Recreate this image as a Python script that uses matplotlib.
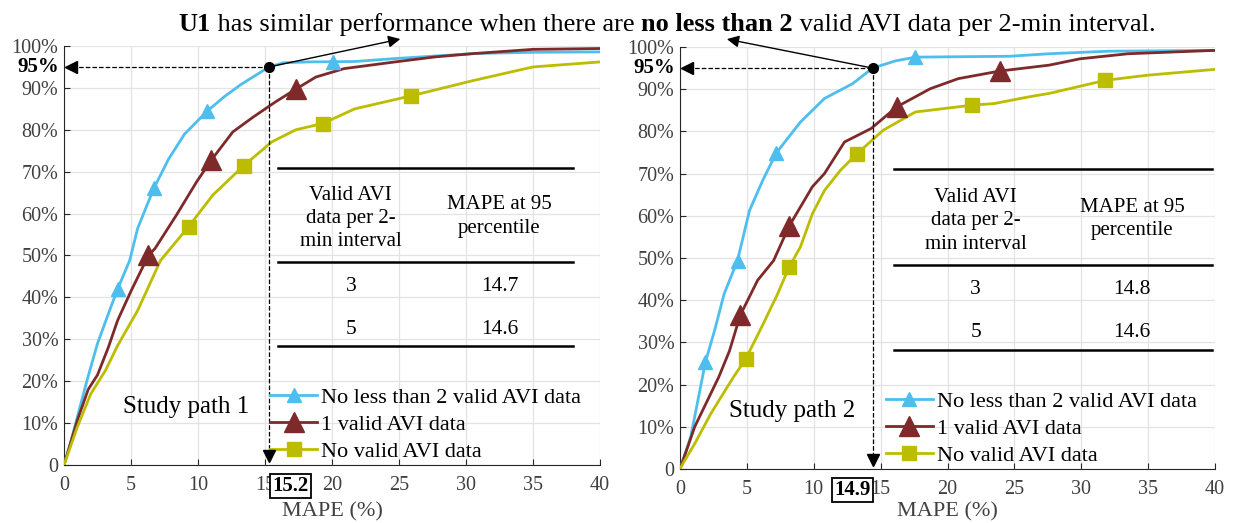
import matplotlib.pyplot as plt
from matplotlib.lines import Line2D

plt.rcParams['font.family'] = ['Liberation Serif', 'DejaVu Serif']

# ---- data (MAPE %, cumulative %) ----
# study path 1
p1_blue_x = [0, 0.5, 1.0, 1.7, 2.5, 3.3, 4.0, 4.9, 5.5, 6.7, 7.8, 9.0, 10.7, 12.0, 13.2, 14.3, 15.3, 16.4, 18.2, 21.7, 24.7, 30.6, 35.0, 40]
p1_blue_y = [0, 5.5, 11.5, 20, 29, 36, 42, 48.8, 56.5, 66, 73, 79, 84.5, 88, 90.8, 93, 95, 96, 96.2, 96.3, 97, 98.2, 98.5, 98.6]
p1_brown_x = [0, 1.0, 1.8, 2.5, 3.3, 4.0, 5.0, 6.3, 6.8, 8.4, 9.9, 11.0, 12.6, 14.1, 15.8, 17.3, 18.8, 20.9, 24.7, 27.7, 30.6, 35.0, 40]
p1_brown_y = [0, 10.7, 18, 21.5, 28, 34.5, 41.5, 50, 51.7, 59.7, 67.6, 72.8, 79.5, 83, 86.7, 89.7, 92.6, 94.6, 96.2, 97.4, 98.2, 99.2, 99.4]
p1_yellow_x = [0, 1.0, 2.0, 3.1, 4.0, 5.5, 7.2, 9.3, 11.1, 13.4, 15.5, 17.3, 19.3, 21.7, 25.9, 30.6, 35.0, 40]
p1_yellow_y = [0, 9.1, 17, 22.6, 28.5, 36.9, 48.8, 56.9, 64.4, 71.4, 77.1, 80, 81.5, 85, 88.1, 91.8, 95, 96.2]
p1_blue_mx = [4.0, 6.7, 10.7, 20.1]
p1_blue_my = [42, 66, 84.5, 96.2]
p1_brown_mx = [6.3, 11.0, 17.3]
p1_brown_my = [50, 72.8, 89.7]
p1_yellow_mx = [9.3, 13.4, 19.3, 25.9]
p1_yellow_my = [56.9, 71.4, 81.5, 88.1]

# study path 2
p2_blue_x = [0, 0.8, 1.9, 2.6, 3.3, 4.3, 5.2, 6.2, 7.2, 9.0, 10.8, 12.9, 14.4, 16.1, 17.6, 24.6, 27.6, 32.0, 40]
p2_blue_y = [0, 7.6, 25.3, 33, 41.5, 49.4, 61.3, 68.5, 74.9, 82.2, 87.8, 91.3, 95, 96.7, 97.6, 97.8, 98.4, 99, 99.2]
p2_brown_x = [0, 1.1, 2.9, 3.7, 4.5, 5.8, 7.0, 8.15, 9.9, 10.8, 12.3, 14.3, 16.2, 18.7, 20.8, 23.9, 27.6, 29.9, 33.5, 40]
p2_brown_y = [0, 10, 21.8, 28, 36.4, 44.7, 49.4, 57.5, 66.9, 70, 77.5, 80.7, 85.8, 90.1, 92.5, 94.3, 95.7, 97.2, 98.4, 99.2]
p2_yellow_x = [0, 0.35, 1.1, 2.3, 4.0, 4.9, 6.1, 7.3, 8.15, 9.0, 9.9, 10.8, 12.0, 13.2, 15.2, 17.6, 21.8, 23.5, 26.1, 27.6, 31.8, 34.9, 40]
p2_yellow_y = [0, 2, 6, 13.1, 21.8, 26, 33.6, 41.5, 47.8, 52.6, 60.5, 66, 70.8, 74.6, 80.3, 84.6, 86.2, 86.6, 88.2, 89, 92.1, 93.3, 94.7]
p2_blue_mx = [1.9, 4.3, 7.2, 17.6]
p2_blue_my = [25.3, 49.4, 74.9, 97.6]
p2_brown_mx = [4.5, 8.15, 16.2, 23.9]
p2_brown_my = [36.4, 57.5, 85.8, 94.3]
p2_yellow_mx = [4.9, 8.15, 13.2, 21.8, 31.8]
p2_yellow_my = [26, 47.8, 74.6, 86.2, 92.1]

series_names = ['No less than 2 valid AVI data', '1 valid AVI data', 'No valid AVI data']
path_names = ['Study path 1', 'Study path 2']
p95_x = [15.3, 14.4]
p95_labels = ['15.2', '14.9']
table_rows = ['3', '5']
table_p1 = ['14.7', '14.6']
table_p2 = ['14.8', '14.6']

colors = ['#4DBEEE', '#7E2A2A', '#BDBD00']
markers = ['^', '^', 's']
msizes = [10, 15, 10]

fig = plt.figure(figsize=(12.33, 5.23), dpi=100)
ax1 = fig.add_axes([64 / 1233, 58 / 523, 536 / 1233, 419 / 523])
ax2 = fig.add_axes([680 / 1233, 54 / 523, 535 / 1233, 422 / 523])

panels = [
    (ax1, [(p1_blue_x, p1_blue_y, p1_blue_mx, p1_blue_my),
           (p1_brown_x, p1_brown_y, p1_brown_mx, p1_brown_my),
           (p1_yellow_x, p1_yellow_y, p1_yellow_mx, p1_yellow_my)], table_p1, (25.3, 101.8)),
    (ax2, [(p2_blue_x, p2_blue_y, p2_blue_mx, p2_blue_my),
           (p2_brown_x, p2_brown_y, p2_brown_mx, p2_brown_my),
           (p2_yellow_x, p2_yellow_y, p2_yellow_mx, p2_yellow_my)], table_p2, (3.3, 102)),
]

tick_col = '#404040'
for i, (ax, curves, tvals, tip) in enumerate(panels):
    handles = []
    for (cx, cy, mx, my), c, m, ms, name in zip(curves, colors, markers, msizes, series_names):
        ax.plot(cx, cy, color=c, lw=2, zorder=3)
        ax.plot(mx, my, ls='none', marker=m, ms=ms, color=c, zorder=4)
        handles.append(Line2D([], [], color=c, lw=2, marker=m, ms=ms, label=name))

    ax.set_xlim(0, 40)
    ax.set_ylim(0, 100)
    ax.set_xticks(range(0, 41, 5))
    ax.set_yticks(range(0, 101, 10))
    ax.set_yticklabels(['0'] + ['%d%%' % v for v in range(10, 101, 10)])
    ax.tick_params(direction='in', labelsize=14.5, labelcolor=tick_col, color='#262626', length=4)
    ax.tick_params(axis='x', pad=8)
    ax.tick_params(axis='y', pad=4)
    ax.grid(True, color='#e3e3e3', lw=0.9)
    ax.set_axisbelow(True)
    for s in ['top', 'right']:
        ax.spines[s].set_visible(False)
    for s in ['left', 'bottom']:
        ax.spines[s].set_color('#262626')
    ax.set_xlabel('MAPE (%)', fontsize=16, color=tick_col, labelpad=5 if i == 0 else 2)

    # 95th percentile marker
    px = p95_x[i]
    ax.plot([0.6, px], [95, 95], ls='--', color='black', lw=0.9, zorder=5)
    ax.plot([px, px], [95, 2.5], ls='--', color='black', lw=0.9, zorder=5)
    ax.plot([0.5], [95], marker='<', color='black', ms=9, clip_on=False, zorder=6)
    ax.plot([px], [2.2], marker='v', color='black', ms=9, clip_on=False, zorder=6)
    ax.plot([px], [95], marker='o', color='black', ms=7, zorder=7)
    ax.text(-0.4, 95, '95%', ha='right', va='center', fontsize=15, fontweight='bold')
    bx = px + 1.6 if i == 0 else px - 1.5
    ax.text(bx, -5.0, p95_labels[i], ha='center', va='center', fontsize=15, fontweight='bold',
            bbox=dict(boxstyle='square,pad=0.1', fc='white', ec='black', lw=1.3), zorder=8)
    ax.annotate('', xy=tip, xytext=(px, 95), annotation_clip=False,
                arrowprops=dict(arrowstyle='-|>', color='black', lw=1.0, mutation_scale=18))

    # table
    tx1 = 38.0 if i == 0 else 39.8
    for ly in [71, 48.4, 28.3]:
        ax.plot([16.0, tx1], [ly, ly], color='black', lw=1.8, zorder=5)
    c1 = 21.4 if i == 0 else 22.1
    c2 = 32.5 if i == 0 else 33.8
    ax.text(c1, 58.8, 'Valid AVI\ndata per 2-\nmin interval', ha='center', va='center', fontsize=15, linespacing=1.3)
    ax.text(c2, 59.3, 'MAPE at 95\npercentile', ha='center', va='center', fontsize=15, linespacing=1.3)
    for r, (lab, val) in enumerate(zip(table_rows, tvals)):
        ax.text(c1, 42.6 - r * 10.3, lab, ha='center', va='center', fontsize=15.5)
        ax.text(c2, 42.6 - r * 10.3, val, ha='center', va='center', fontsize=15.5)

    ax.text(4.4 if i == 0 else 3.7, 13.8, path_names[i], ha='left', va='center', fontsize=18)
    ax.legend(handles=handles, loc='lower left', bbox_to_anchor=(0.36, -0.025), frameon=False,
              fontsize=16, handlelength=2.1, labelspacing=0.3, borderpad=0.1, handletextpad=0.2)

# title with mixed bold / normal
pieces = [('U1', 'bold'), (' has similar performance when there are ', 'normal'),
          ('no less than 2', 'bold'), (' valid AVI data per 2-min interval.', 'normal')]
fig.canvas.draw()
r = fig.canvas.get_renderer()
texts = []
total = 0
for txt, w in pieces:
    t = fig.text(0, 1 - 31 / 523, txt, fontsize=19, fontweight=w, ha='left', va='baseline')
    texts.append(t)
    total += t.get_window_extent(renderer=r).width
x = 667 - total / 2
for t in texts:
    t.set_x(x / 1233)
    x += t.get_window_extent(renderer=r).width

plt.savefig('out.png', dpi=100)
